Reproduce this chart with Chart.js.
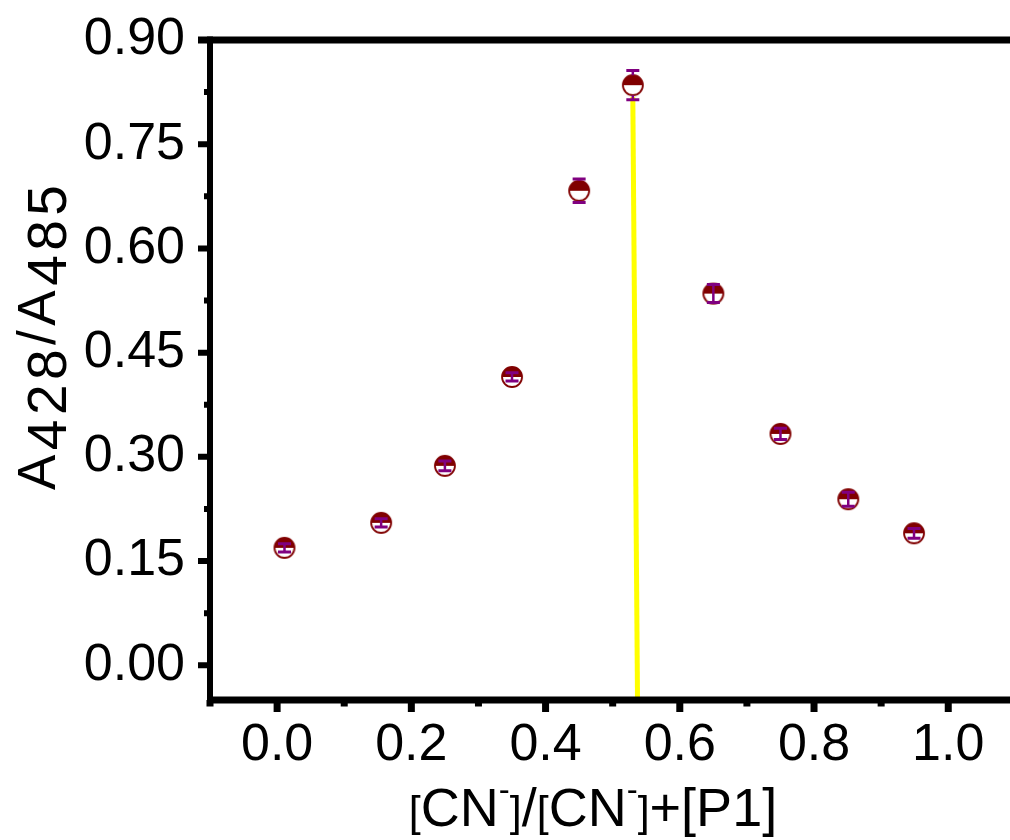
<!DOCTYPE html>
<html><head><meta charset="utf-8">
<script src="https://cdn.jsdelivr.net/npm/chart.js@4.4.1/dist/chart.umd.min.js"></script>
<style>html,body{margin:0;padding:0;background:#fff;overflow:hidden}#wrap{width:1010px;height:840px;position:relative}</style>
</head><body><div id="wrap"><canvas id="c"></canvas></div>
<script>
// ---- data ----
const xValues = [0.011, 0.155, 0.250, 0.350, 0.450, 0.530, 0.650, 0.750, 0.851, 0.949];
const yValues = [0.169, 0.205, 0.287, 0.415, 0.683, 0.835, 0.535, 0.333, 0.239, 0.190];
const yErrors = [0.006, 0.006, 0.007, 0.006, 0.017, 0.021, 0.013, 0.008, 0.010, 0.007];
const fitLineX = [0.530, 0.537];
const fitLineY = [0.818, -0.05];
const xMajorTicks = [0, 0.2, 0.4, 0.6, 0.8, 1.0];
const xTickLabels = ['0.0', '0.2', '0.4', '0.6', '0.8', '1.0'];
const xMinorTicks = [-0.1, 0.1, 0.3, 0.5, 0.7, 0.9];
const yMajorTicks = [0, 0.15, 0.30, 0.45, 0.60, 0.75, 0.90];
const yTickLabels = ['0.00', '0.15', '0.30', '0.45', '0.60', '0.75', '0.90'];
const yMinorTicks = [0.075, 0.225, 0.375, 0.525, 0.675, 0.825];
const xTitleParts = [['[', 's'], ['CN', 'n'], ['-', 'sup'], [']', 's'], ['/', 'n'], ['[', 's'], ['CN', 'n'], ['-', 'sup'], [']', 's'], ['+[P1]', 'n']];
const yTitleParts = [['A', 'n'], ['428', 'sub'], ['/', 'n'], ['A', 'n'], ['485', 'sub']];

const FONT = '"Liberation Sans", Arial, sans-serif';
const DARK = '#800000';
const PURPLE = '#800080';
const R = 10;

// half-filled circle marker
function makeMarker(r) {
  const c = document.createElement('canvas');
  const s = Math.ceil(r * 2 + 4);
  c.width = s; c.height = s;
  const g = c.getContext('2d');
  const cx = s / 2, cy = s / 2;
  g.beginPath(); g.arc(cx, cy, r, 0, Math.PI * 2); g.fillStyle = '#fff'; g.fill();
  g.beginPath(); g.arc(cx, cy, r, Math.PI, Math.PI * 2); g.closePath(); g.fillStyle = DARK; g.fill();
  g.beginPath(); g.arc(cx, cy, r, 0, Math.PI * 2); g.lineWidth = 1.8; g.strokeStyle = DARK; g.stroke();
  return c;
}
const marker = makeMarker(R);

const decor = {
  id: 'decor',
  afterDatasetsDraw(chart) {
    const ctx = chart.ctx, xs = chart.scales.x, ys = chart.scales.y;
    ctx.save();
    ctx.strokeStyle = PURPLE;
    for (let i = 0; i < xValues.length; i++) {
      const px = xs.getPixelForValue(xValues[i]);
      const py = ys.getPixelForValue(yValues[i]);
      const t = ys.getPixelForValue(yValues[i] + yErrors[i]);
      const b = ys.getPixelForValue(yValues[i] - yErrors[i]);
      ctx.lineWidth = 2.5;
      ctx.beginPath();
      if (py - t > R) {
        ctx.moveTo(px, t); ctx.lineTo(px, py - R);
        ctx.moveTo(px, py + R); ctx.lineTo(px, b);
      } else {
        ctx.moveTo(px, t); ctx.lineTo(px, b);
      }
      ctx.stroke();
      ctx.lineWidth = 3;
      ctx.beginPath(); ctx.moveTo(px - 6.5, t); ctx.lineTo(px + 6.5, t);
      ctx.moveTo(px - 6.5, b); ctx.lineTo(px + 6.5, b); ctx.stroke();
    }
    ctx.restore();
  },
  afterDraw(chart) {
    const ctx = chart.ctx, a = chart.chartArea, xs = chart.scales.x, ys = chart.scales.y;
    ctx.save();
    ctx.strokeStyle = '#000'; ctx.lineCap = 'butt';
    // ticks
    ctx.lineWidth = 6;
    ctx.beginPath();
    yMajorTicks.forEach(v => { const p = ys.getPixelForValue(v); ctx.moveTo(a.left, p); ctx.lineTo(a.left - 12, p); });
    yMinorTicks.forEach(v => { const p = ys.getPixelForValue(v); ctx.moveTo(a.left, p); ctx.lineTo(a.left - 6, p); });
    ctx.stroke();
    ctx.lineWidth = 7;
    ctx.beginPath();
    xMajorTicks.forEach(v => { const p = xs.getPixelForValue(v); ctx.moveTo(p, a.bottom); ctx.lineTo(p, a.bottom + 12); });
    xMinorTicks.forEach(v => { const p = xs.getPixelForValue(v); ctx.moveTo(p, a.bottom); ctx.lineTo(p, a.bottom + 6.5); });
    ctx.stroke();
    // axis lines
    ctx.lineWidth = 7;
    ctx.beginPath(); ctx.moveTo(a.left - 12, a.top); ctx.lineTo(a.right + 5, a.top); ctx.stroke();
    ctx.beginPath(); ctx.moveTo(a.left - 3, a.bottom); ctx.lineTo(a.right + 5, a.bottom); ctx.stroke();
    ctx.lineWidth = 6;
    ctx.beginPath(); ctx.moveTo(a.left, a.top - 3.5); ctx.lineTo(a.left, a.bottom + 4); ctx.stroke();

    // x title
    ctx.fillStyle = '#000';
    ctx.textBaseline = 'alphabetic'; ctx.textAlign = 'left';
    const fx = { n: '54px ' + FONT, s: '43px ' + FONT, sup: '33px ' + FONT };
    let total = 0;
    xTitleParts.forEach(([t, k]) => { ctx.font = fx[k]; total += ctx.measureText(t).width; });
    let x = 593 - total / 2;
    const base = 826;
    xTitleParts.forEach(([t, k]) => {
      ctx.font = fx[k];
      ctx.fillText(t, x, k === 'sup' ? base - 25 : base);
      x += ctx.measureText(t).width;
    });

    // y title (rotated)
    ctx.translate(55, 490);
    ctx.rotate(-Math.PI / 2);
    let yx = 0;
    const gap = 4.5;
    yTitleParts.forEach(([t, k]) => {
      ctx.font = (k === 'sub' ? '55px ' : '53px ') + FONT;
      for (const ch of t) {
        ctx.fillText(ch, yx, k === 'sub' ? 11 : 0);
        yx += ctx.measureText(ch).width + gap;
      }
    });
    ctx.restore();
  }
};

function zeroPad(s) { s.paddingTop = 0; s.paddingBottom = 0; s.paddingLeft = 0; s.paddingRight = 0; }

new Chart(document.getElementById('c'), {
  data: {
    datasets: [
      {
        type: 'line',
        data: fitLineX.map((v, i) => ({ x: v, y: fitLineY[i] })),
        borderColor: '#ffff00', borderWidth: 5, pointRadius: 0, fill: false, order: 2
      },
      {
        type: 'scatter',
        data: xValues.map((v, i) => ({ x: v, y: yValues[i] })),
        pointStyle: marker, pointRadius: R, order: 1
      }
    ]
  },
  options: {
    responsive: true, maintainAspectRatio: false, animation: false,
    layout: { autoPadding: false, padding: { top: 40, right: 0, left: 0, bottom: 0 } },
    plugins: { legend: { display: false }, tooltip: { enabled: false } },
    scales: {
      x: {
        type: 'linear', min: -0.1, max: 1.092,
        grid: { display: false, drawTicks: false }, border: { display: false },
        afterBuildTicks: s => { s.ticks = xMajorTicks.map(v => ({ value: v })); },
        afterFit: s => { s.height = 140; zeroPad(s); },
        ticks: {
          padding: 14, color: '#000', font: { family: FONT, size: 52 },
          callback: (v, i) => xTickLabels[i], maxRotation: 0, autoSkip: false
        }
      },
      y: {
        type: 'linear', min: -0.05, max: 0.9,
        grid: { display: false, drawTicks: false }, border: { display: false },
        afterBuildTicks: s => { s.ticks = yMajorTicks.map(v => ({ value: v })); },
        afterFit: s => { s.width = 210; zeroPad(s); },
        ticks: {
          padding: 25, color: '#000', font: { family: FONT, size: 52 },
          callback: (v, i) => yTickLabels[i], autoSkip: false
        }
      }
    }
  },
  plugins: [decor]
});
</script></body></html>
